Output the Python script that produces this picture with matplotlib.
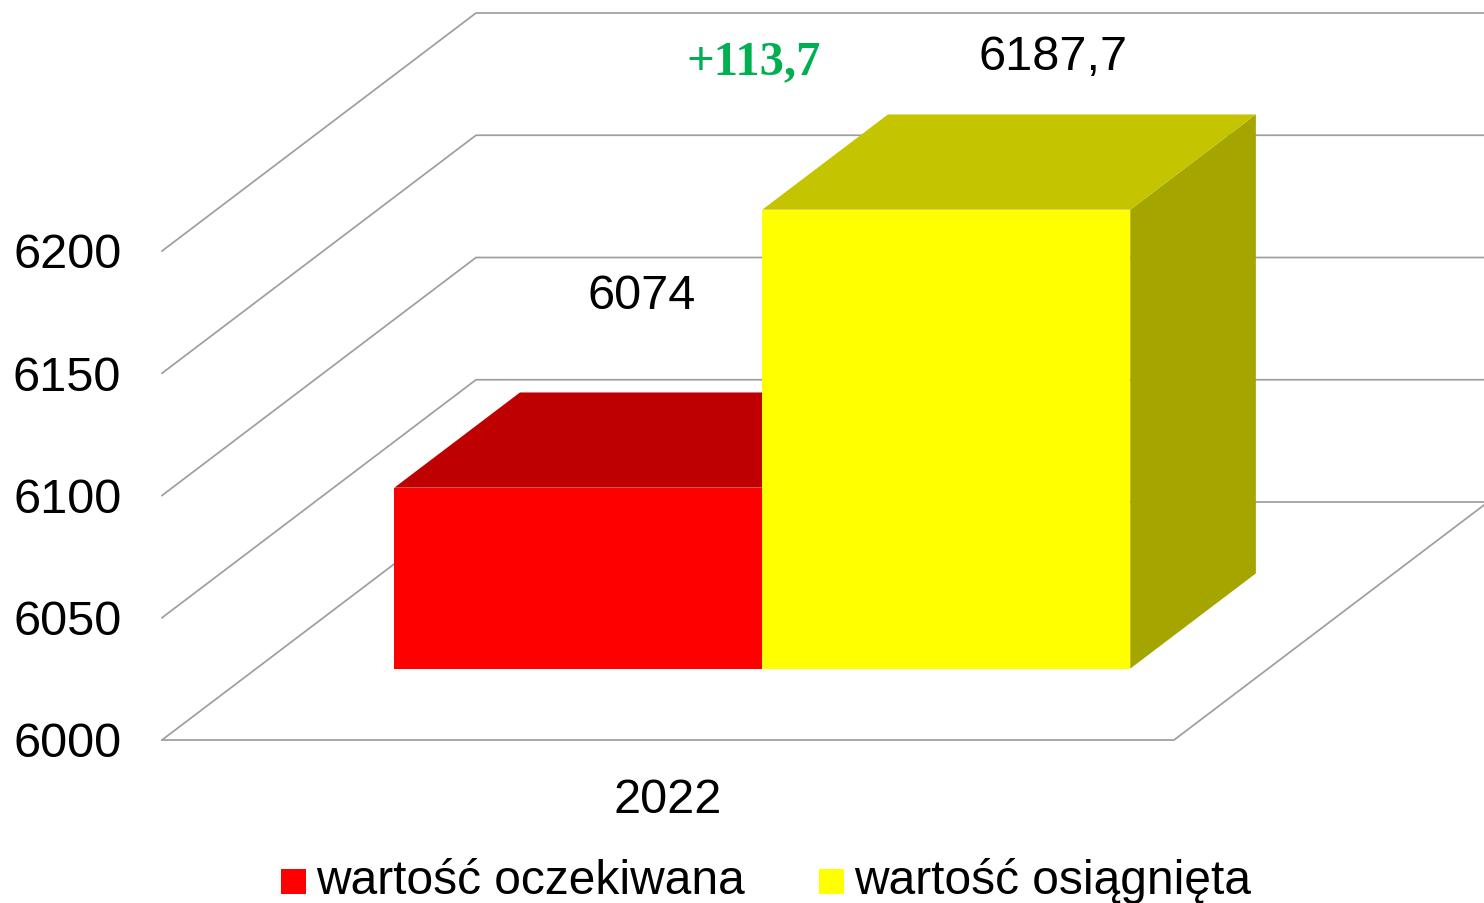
import matplotlib
matplotlib.use("Agg")
import matplotlib.pyplot as plt
from matplotlib.patches import Polygon, Patch, Rectangle
from matplotlib.legend_handler import HandlerPatch
from matplotlib.transforms import ScaledTranslation

W, H = 1484, 904
categories = ["2022"]
series_names = ["wartość oczekiwana", "wartość osiągnięta"]
values = [6074, 6187.7]
value_labels = ["6074", "6187,7"]
difference_label = "+113,7"
y_ticks = [6000, 6050, 6100, 6150, 6200]

face_colors = ["#FF0000", "#FFFF00"]
top_colors = ["#BF0000", "#C4C400"]
side_colors = ["#A60000", "#A5A500"]
GRID = "#9E9E9E"
FONT = "Liberation Sans"
FS = 35

BAR_W = 0.3636
GAP = 0.1365
DEPTH_X = 314 / 1012
DEPTH_Y = 238 / (489 / 200)
D0, D1 = 0.30, 0.70


def proj(x, v, d):
    return (x + d * DEPTH_X, v + d * DEPTH_Y)


def legend_square(legend, orig_handle, xdescent, ydescent, width, height, fontsize):
    return Rectangle((-xdescent, -ydescent - 3.0), width, height * 0.9)


fig = plt.figure(figsize=(W / 100, H / 100), dpi=100, facecolor="white")
ax = fig.add_axes([162 / W, 1 - 741 / H, 1012 / W, 489 / H])
ax.set_xlim(0, 1)
ax.set_ylim(y_ticks[0], y_ticks[-1])
for s in ax.spines.values():
    s.set_visible(False)
ax.patch.set_alpha(0)

ax.set_yticks(y_ticks)
ax.set_yticklabels([str(t) for t in y_ticks], fontname=FONT, fontsize=FS)
ax.set_xticks([0.5])
ax.set_xticklabels(categories, fontname=FONT, fontsize=FS)
ax.tick_params(axis="y", length=0, pad=29.3)
ax.tick_params(axis="x", length=0, pad=26.4)
for lab in ax.get_yticklabels():
    lab.set_transform(lab.get_transform() + ScaledTranslation(0, 1 / 100, fig.dpi_scale_trans))

# walls and floor
for t in y_ticks:
    pts = [proj(0, t, 0), proj(0, t, 1), proj(1, t, 1)]
    ax.plot(*zip(*pts), color=GRID, lw=1.25, clip_on=False, zorder=1)
base = y_ticks[0]
floor = [proj(0, base, 0), proj(1, base, 0), proj(1, base, 1)]
ax.plot(*zip(*floor), color=GRID, lw=1.25, clip_on=False, zorder=1)

# bars
for i, v in enumerate(values):
    x0 = GAP + i * BAR_W
    x1 = x0 + BAR_W
    z = 2 + i
    ax.add_patch(Polygon([proj(x1, base, D0), proj(x1, base, D1), proj(x1, v, D1), proj(x1, v, D0)],
                         fc=side_colors[i], ec="none", clip_on=False, zorder=z))
    ax.add_patch(Polygon([proj(x0, v, D0), proj(x1, v, D0), proj(x1, v, D1), proj(x0, v, D1)],
                         fc=top_colors[i], ec="none", clip_on=False, zorder=z))
    ax.add_patch(Polygon([proj(x0, base, D0), proj(x1, base, D0), proj(x1, v, D0), proj(x0, v, D0)],
                         fc=face_colors[i], ec="none", clip_on=False, zorder=z))

# value labels
offsets = [(1, 145), (44, 106)]
for i, v in enumerate(values):
    xc = GAP + (i + 0.5) * BAR_W
    ax.annotate(value_labels[i], xy=proj(xc, v, 0.5),
                xytext=(offsets[i][0] * 0.72, offsets[i][1] * 0.72), textcoords="offset points",
                ha="center", va="center", fontname=FONT, fontsize=FS, color="black",
                annotation_clip=False, zorder=6)
xc = GAP + 1.5 * BAR_W
ax.annotate(difference_label, xy=proj(xc, values[1], 0.5),
            xytext=((754 - 1009) * 0.72, 101 * 0.72), textcoords="offset points",
            ha="center", va="center", fontname="Liberation Serif", fontweight="bold",
            fontsize=FS, color="#00B050", annotation_clip=False, zorder=6)

handles = [Patch(fc=c, ec="none") for c in face_colors]
fig.legend(handles, series_names, loc="center", bbox_to_anchor=(766 / W, 1 - 881 / H),
           ncol=2, frameon=False, prop={"family": FONT, "size": 34.5},
           handlelength=0.52, handleheight=0.52, handletextpad=0.21, columnspacing=1.56,
           borderpad=0, borderaxespad=0,
           handler_map={Patch: HandlerPatch(patch_func=legend_square)})

fig.savefig("out.png", dpi=100, facecolor="white")
